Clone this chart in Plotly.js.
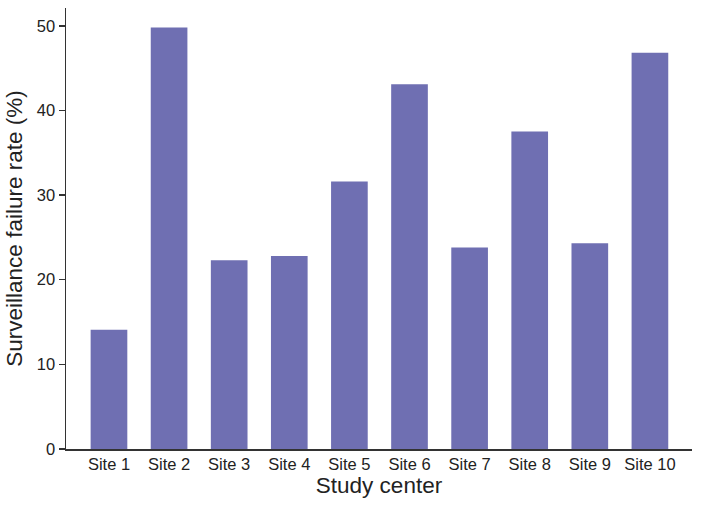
<!DOCTYPE html>
<html>
<head>
<meta charset="utf-8">
<script src="https://cdn.plot.ly/plotly-3.0.1.min.js"></script>
<style>html,body{margin:0;padding:0;background:#fff;}#chart{width:701px;height:506px;}</style>
</head>
<body>
<div id="chart"></div>
<script>
const sites = ["Site 1","Site 2","Site 3","Site 4","Site 5","Site 6","Site 7","Site 8","Site 9","Site 10"];
const failureRate = [14.1, 49.8, 22.3, 22.8, 31.6, 43.1, 23.8, 37.5, 24.3, 46.8];
const yTicks = [0, 10, 20, 30, 40, 50];

const trace = {
  type: "bar",
  x: sites,
  y: failureRate,
  marker: {color: "rgb(111,111,178)"},
  hoverinfo: "skip"
};

const layout = {
  width: 701, height: 506,
  margin: {l: 66, r: 9, t: 8, b: 57},
  paper_bgcolor: "#fff", plot_bgcolor: "#fff",
  bargap: 0.39,
  showlegend: false,
  font: {family: "Liberation Sans, Arial, sans-serif", color: "#222"},
  xaxis: {
    range: [-0.715, 9.7],
    showgrid: false, zeroline: false,
    showline: true, linecolor: "#333", linewidth: 1.5,
    ticks: "", tickfont: {size: 16.5, color: "#222"},
    title: {text: "Study center", font: {size: 22.5, color: "#222"}, standoff: 4}
  },
  yaxis: {
    range: [0, 52.1],
    tickvals: yTicks,
    showgrid: false, zeroline: false,
    showline: true, linecolor: "#333", linewidth: 1.5,
    ticks: "outside", ticklen: 6, tickcolor: "#333", tickwidth: 1.5,
    tickfont: {size: 16.5, color: "#222"},
    title: {text: "Surveillance failure rate (%)", font: {size: 22.5, color: "#222"}, standoff: 8}
  }
};

Plotly.newPlot("chart", [trace], layout, {staticPlot: true, displayModeBar: false});
</script>
</body>
</html>
